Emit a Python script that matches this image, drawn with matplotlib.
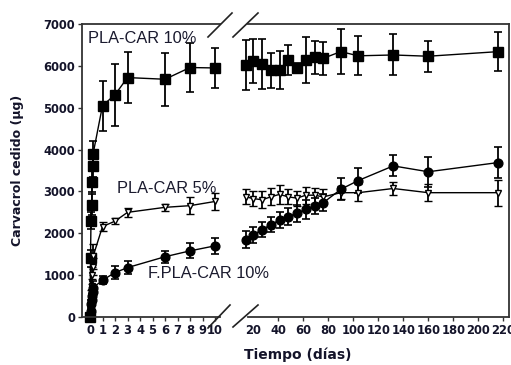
import matplotlib
matplotlib.use('Agg')
import matplotlib.pyplot as plt
from matplotlib.lines import Line2D
import numpy as np

plt.rcParams['font.family'] = ['DejaVu Sans']

# ---- data (time in days, carvacrol released in ug) ----
days = [0, 0.04, 0.08, 0.125, 0.17, 0.21, 0.25, 1, 2, 3, 6, 8, 10,
        14, 20, 27, 34, 41, 48, 55, 62, 69, 76, 90, 104, 132, 160, 216]

pla10 = [0, 1400, 2300, 2680, 3230, 3600, 3900, 5050, 5310, 5720, 5680, 5960, 5950,
         6020, 6110, 6040, 5890, 5900, 6150, 5960, 6150, 6200, 6180, 6340, 6240, 6260, 6230, 6340]
pla10_err = [0, 200, 200, 250, 250, 250, 300, 600, 740, 610, 630, 580, 470,
             600, 520, 600, 420, 460, 360, 100, 550, 400, 400, 530, 470, 490, 370, 470]

pla5 = [0, 250, 500, 750, 1000, 1200, 1450, 2160, 2290, 2500, 2620, 2660, 2760,
        2870, 2830, 2800, 2870, 2930, 2870, 2840, 2910, 2910, 2870, 2970, 2970, 3070, 2970, 2970]
pla5_err = [0, 100, 150, 150, 200, 200, 300, 110, 80, 100, 80, 200, 200,
            180, 180, 200, 200, 220, 180, 180, 200, 180, 180, 160, 200, 150, 200, 310]

fpla10 = [0, 150, 300, 400, 500, 600, 700, 880, 1060, 1180, 1440, 1580, 1700,
          1850, 1960, 2090, 2200, 2320, 2400, 2480, 2570, 2650, 2730, 3050, 3260, 3610, 3470, 3690]
fpla10_err = [0, 80, 100, 120, 150, 150, 150, 100, 160, 150, 140, 180, 195,
              200, 200, 180, 180, 200, 200, 200, 220, 200, 200, 260, 300, 250, 360, 360]

left_ticks = [0, 1, 2, 3, 4, 5, 6, 7, 8, 9, 10]
right_ticks = [20, 40, 60, 80, 100, 120, 140, 160, 180, 200, 220]
y_ticks = [0, 1000, 2000, 3000, 4000, 5000, 6000, 7000]

# ---- figure ----
W, H = 511, 365
fig = plt.figure(figsize=(W / 100, H / 100), dpi=100)

def fx(px):
    return px / W

def fy(py):
    return 1 - py / H

y0, y1 = 317, 24
ax1 = fig.add_axes([fx(82), fy(y0), fx(220) - fx(82), fy(y1) - fy(y0)])
ax2 = fig.add_axes([fx(242), fy(y0), fx(509) - fx(242), fy(y1) - fy(y0)])

ax1.set_xlim(-0.64, 10.4)
ax2.set_xlim(11, 224.6)
for ax in (ax1, ax2):
    ax.set_ylim(0, 7000)
    ax.patch.set_alpha(0)

t = np.array(days)
series = [
    (np.array(pla10), np.array(pla10_err), dict(marker='s', ms=6.5, mfc='black', mec='black')),
    (np.array(pla5), np.array(pla5_err), dict(marker='v', ms=5.0, mfc='white', mec='black', mew=1.0)),
    (np.array(fpla10), np.array(fpla10_err), dict(marker='o', ms=6.3, mfc='black', mec='black')),
]

for ax, mask in ((ax1, t <= 10.5), (ax2, t >= 12)):
    for vals, errs, style in series:
        cont = ax.errorbar(t[mask], vals[mask], yerr=errs[mask], color='black', lw=1.0,
                           elinewidth=1.3, capsize=3, capthick=1.2, **style)
        for art in cont.get_children():
            art.set_clip_on(False)

spine_col = '#333333'
ax1.spines['right'].set_visible(False)
ax2.spines['left'].set_visible(False)
for ax in (ax1, ax2):
    for s in ax.spines.values():
        s.set_color(spine_col)
        s.set_linewidth(1.3)
ax2.spines['bottom'].set_bounds(15.5, 224.6)
ax2.spines['top'].set_bounds(15.5, 224.6)

ax1.set_xticks(left_ticks)
ax1.set_xticklabels([str(v) for v in left_ticks])
ax1.set_yticks(y_ticks)
ax1.set_yticklabels([str(v) for v in y_ticks])
ax2.set_xticks(right_ticks)
ax2.set_xticklabels([str(v) for v in right_ticks])
ax2.set_yticks([])

for ax in (ax1, ax2):
    ax.tick_params(axis='both', direction='out', length=3, width=1.0, color=spine_col,
                   labelsize=8.3, pad=2, labelcolor='#14142a')
    for lbl in ax.get_xticklabels() + ax.get_yticklabels():
        lbl.set_fontweight('bold')
ax2.xaxis.get_major_ticks()[0].tick1line.set_visible(False)

# break marks
for (xa, ya, xb, yb) in [(208, 37, 232, 13), (233, 37, 258, 13),
                          (208, 328, 230, 305), (233, 327, 258, 305)]:
    fig.add_artist(Line2D([fx(xa), fx(xb)], [fy(ya), fy(yb)], color='#222222', lw=1.2))

# axis labels
fig.text(fx(18), fy(170), 'Carvacrol cedido (µg)', rotation=90, ha='center', va='center',
         fontsize=9, fontweight='bold', color='#14142a')
fig.text(fx(298), fy(355), 'Tiempo (días)', ha='center', va='center',
         fontsize=10, fontweight='bold', color='#14142a')

# series annotations
ann_font = dict(family=['Liberation Sans', 'DejaVu Sans'], fontsize=11.8,
                color='#1a1a2e', va='baseline', ha='left')
fig.text(fx(88), fy(43), 'PLA-CAR 10%', **ann_font)
fig.text(fx(117), fy(193), 'PLA-CAR 5%', **ann_font)
fig.text(fx(148), fy(278), 'F.PLA-CAR 10%', **ann_font)

fig.savefig('out.png', dpi=100)
